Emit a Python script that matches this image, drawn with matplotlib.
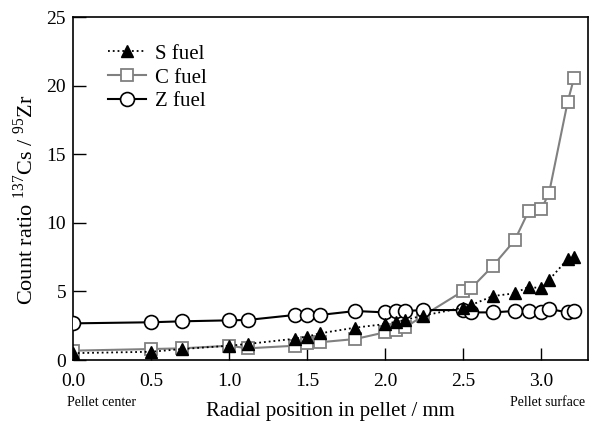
import matplotlib
matplotlib.use("Agg")
import matplotlib.pyplot as plt

plt.rcParams['font.family'] = ['Liberation Serif', 'DejaVu Serif']
plt.rcParams['mathtext.fontset'] = 'custom'
plt.rcParams['mathtext.rm'] = 'Liberation Serif'

x = [0.0, 0.5, 0.7, 1.0, 1.12, 1.42, 1.5, 1.58, 1.81, 2.0, 2.07, 2.13, 2.24,
     2.5, 2.55, 2.69, 2.83, 2.92, 3.0, 3.05, 3.17, 3.21]
s_fuel = [0.5, 0.6, 0.8, 1.04, 1.17, 1.55, 1.7, 1.94, 2.36, 2.62, 2.79, 2.92, 3.23,
          3.81, 4.0, 4.66, 4.86, 5.34, 5.22, 5.83, 7.36, 7.48]
c_fuel = [0.68, 0.8, 0.85, 1.04, 0.85, 1.04, 1.21, 1.29, 1.53, 2.02, 2.19, 2.38, 3.2,
          5.03, 5.22, 6.85, 8.72, 10.86, 10.98, 12.15, 18.83, 20.53]
z_fuel = [2.67, 2.75, 2.82, 2.89, 2.92, 3.28, 3.28, 3.28, 3.57, 3.47, 3.57, 3.57, 3.64,
          3.64, 3.47, 3.47, 3.57, 3.57, 3.47, 3.72, 3.47, 3.6]

xticks = [0.0, 0.5, 1.0, 1.5, 2.0, 2.5, 3.0]
yticks = [0, 5, 10, 15, 20, 25]

fig = plt.figure(figsize=(6, 4.23), dpi=100)
ax = fig.add_axes([73/600, 1-360/423, (588-73)/600, (360-17)/423])

ax.plot(x, c_fuel, color='#808080', lw=1.5, marker='s', ms=8, mfc='white',
        mec='#808080', mew=1.3, label='C fuel', zorder=2)
ax.plot(x, z_fuel, color='black', lw=1.5, marker='o', ms=10, mfc='white',
        mec='black', mew=1.2, label='Z fuel', zorder=3)
ax.plot(x, s_fuel, color='black', lw=1.3, ls=':', marker='^', ms=8, mfc='black',
        mec='black', label='S fuel', zorder=4)

ax.set_xlim(0, 3.3)
ax.set_ylim(0, 25)
ax.set_xticks(xticks)
ax.set_xticklabels([f'{v:.1f}' for v in xticks])
ax.set_yticks(yticks)
ax.tick_params(direction='in', length=9, width=1, labelsize=14)
ax.tick_params(axis='x', pad=9)
ax.tick_params(axis='y', pad=5)
for sp in ax.spines.values():
    sp.set_linewidth(1.2)

ax.set_xlabel('Radial position in pellet / mm', fontsize=15)
ax.xaxis.label.set_va('center')
ax.xaxis.set_label_coords(0.5, (360 - 411) / 343)
ax.set_ylabel('Count ratio $^{137}$Cs / $^{95}$Zr', fontsize=16)
ax.yaxis.label.set_va('center')
ax.yaxis.set_label_coords((25 - 73) / 515, (360 - 200) / 343)

ax.text(-0.012, (360 - 402) / 343, 'Pellet center', transform=ax.transAxes,
        fontsize=10, ha='left', va='center')
ax.text(0.994, (360 - 402) / 343, 'Pellet surface', transform=ax.transAxes,
        fontsize=10, ha='right', va='center')

h, l = ax.get_legend_handles_labels()
order = [2, 0, 1]
ax.legend([h[i] for i in order], [l[i] for i in order], loc='upper left',
          frameon=False, fontsize=15, bbox_to_anchor=(0.052, 0.945),
          handlelength=1.8, handletextpad=0.45, labelspacing=0.2, borderaxespad=0)

fig.savefig('out.png', dpi=100)
